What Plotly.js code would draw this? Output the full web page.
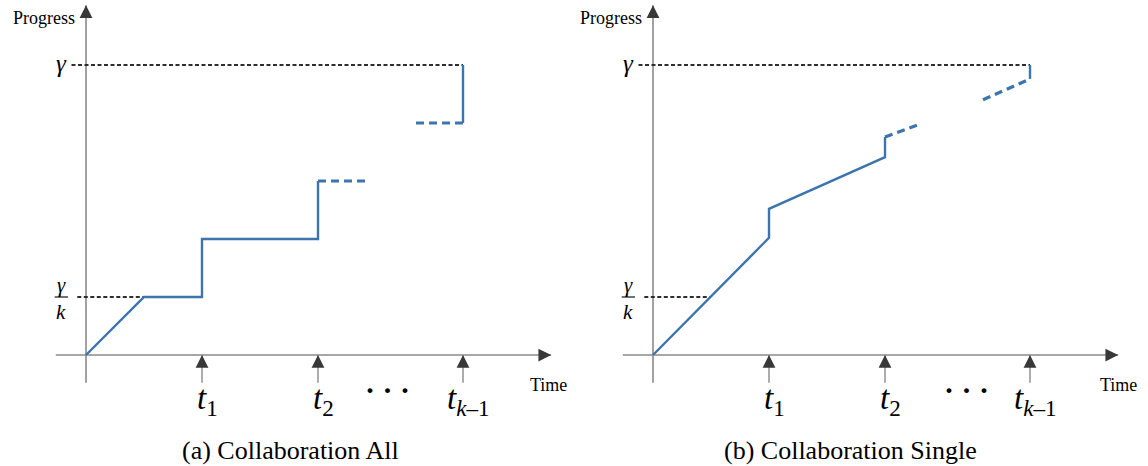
<!DOCTYPE html>
<html>
<head>
<meta charset="utf-8">
<script src="https://cdn.plot.ly/plotly-3.0.1.min.js"></script>
<style>html,body{margin:0;padding:0;background:#fff;}#chart{width:1148px;height:466px;}</style>
</head>
<body>
<div id="chart"></div>
<script>
// ---- data (abstract units: time, progress) ----
const gamma = 5;              // final progress level γ
const gammaOverK = 1;         // first milestone γ/k
const tickTimes = [2, 4, 6.5];
const tickLabels = ['<i>t</i><sub>1</sub>', '<i>t</i><sub>2</sub>', '<i>t</i><sub><i>k</i>–1</sub>'];

// (a) Collaboration All
const allSolidX = [0, 1, 2, 2, 4, 4];
const allSolidY = [0, 1, 1, 2, 2, 3];
const allDash1X = [4, 4.84];
const allDash1Y = [3, 3];
const allDash2X = [5.69, 6.5];
const allDash2Y = [4, 4];
const allEndX = [6.5, 6.5];
const allEndY = [4, 5];

// (b) Collaboration Single
const singleSolidX = [0, 2, 2, 4, 4];
const singleSolidY = [0, 2.02, 2.52, 3.41, 3.76];
const singleDash1X = [4, 4.57];
const singleDash1Y = [3.76, 3.97];
const singleDash2X = [5.69, 6.5];
const singleDash2Y = [4.40, 4.76];
const singleEndX = [6.5, 6.5];
const singleEndY = [4.76, 5];

// reference levels and axis extents
const gammaLineX = [-0.25, 6.5];
const gammaKLineX = [-0.15, 1];
const xAxisExtent = [-0.52, 8.02];
const yAxisExtent = [-0.48, 6.03];
const tickTail = -0.48;

const panels = ['(a) Collaboration All', '(b) Collaboration Single'];

// ---- layout scale ----
const W = 1148, H = 466, PX = 58;
const originY = 355;
const yRange = [-(H - originY) / PX, originY / PX];
const leftOrigin = 86, rightOrigin = 653, split = 574;
const xRange1 = [-leftOrigin / PX, (split - leftOrigin) / PX];
const xRange2 = [-(rightOrigin - split) / PX, (W - rightOrigin) / PX];

const blue = '#3c74ad';
const gray = '#8a8a8a';
const dark = '#2e2e2e';
const serif = 'Liberation Serif';

const traces = [];
const annotations = [];

function line(xs, ys, xa, color, width, dash) {
  traces.push({x: xs, y: ys, xaxis: xa, yaxis: 'y', mode: 'lines', hoverinfo: 'skip',
    line: {color: color, width: width, dash: dash || 'solid'}, showlegend: false});
}
function arrowHead(xa, x, y, dx, dy) {
  annotations.push({xref: xa, yref: 'y', x: x, y: y, ax: dx, ay: dy, text: '', showarrow: true,
    arrowhead: 2, arrowsize: 1.7, arrowwidth: 1.5, arrowcolor: '#383838', standoff: 0});
}
function label(xa, x, y, text, size) {
  annotations.push({xref: xa, yref: 'y', x: x, y: y, text: text, showarrow: false,
    font: {family: serif, size: size, color: '#000'}});
}

const sets = [
  {xa: 'x', sx: allSolidX, sy: allSolidY, d1x: allDash1X, d1y: allDash1Y, d2x: allDash2X, d2y: allDash2Y, ex: allEndX, ey: allEndY, dotsX: 5.19, capX: 3.52, timeX: 7.97},
  {xa: 'x2', sx: singleSolidX, sy: singleSolidY, d1x: singleDash1X, d1y: singleDash1Y, d2x: singleDash2X, d2y: singleDash2Y, ex: singleEndX, ey: singleEndY, dotsX: 5.41, capX: 3.41, timeX: 8.02}
];

sets.forEach((s, i) => {
  const xa = s.xa;
  // axes
  line(xAxisExtent, [0, 0], xa, gray, 1.6);
  line([0, 0], yAxisExtent, xa, gray, 1.6);
  arrowHead(xa, xAxisExtent[1], 0, -10, 0);
  arrowHead(xa, 0, yAxisExtent[1], 0, 10);
  // tick arrows
  tickTimes.forEach((t, j) => {
    line([t, t], [tickTail, 0], xa, gray, 1.4);
    arrowHead(xa, t, 0, 0, 10);
    label(xa, t + 0.1, -0.78, tickLabels[j], 33);
  });
  // reference dashed levels
  line(gammaLineX, [gamma, gamma], xa, dark, 2, '4px,2.5px');
  line(gammaKLineX, [gammaOverK, gammaOverK], xa, dark, 2, '4px,2.5px');
  // progress curve
  line(s.sx, s.sy, xa, blue, 2.4);
  line(s.d1x, s.d1y, xa, blue, 3.2, '8px,5px');
  line(s.d2x, s.d2y, xa, blue, 3.2, '8px,5px');
  line(s.ex, s.ey, xa, blue, 2.4);
  // texts
  label(xa, -0.73, 5.81, 'Progress', 18);
  label(xa, -0.43, gamma + 0.03, '<i>γ</i>', 25);
  label(xa, -0.43, gammaOverK + 0.21, '<i>γ</i>', 21);
  label(xa, -0.43, gammaOverK - 0.25, '<i>k</i>', 21);
  label(xa, s.timeX, -0.52, 'Time', 18);
  label(xa, s.dotsX, -0.6, '<b>· · ·</b>', 30);
  label(xa, s.capX, -1.64, panels[i], 26);
  // fraction bar
  line([-0.54, -0.31], [gammaOverK, gammaOverK], xa, '#000', 1.1);
});

const axisCommon = {visible: false, showgrid: false, zeroline: false, fixedrange: true};
const layout = {
  width: W, height: H,
  margin: {l: 0, r: 0, t: 0, b: 0},
  paper_bgcolor: '#fff', plot_bgcolor: '#fff',
  font: {family: serif, color: '#000'},
  xaxis: Object.assign({domain: [0, split / W], range: xRange1, anchor: 'y'}, axisCommon),
  xaxis2: Object.assign({domain: [split / W, 1], range: xRange2, anchor: 'y'}, axisCommon),
  yaxis: Object.assign({domain: [0, 1], range: yRange, anchor: 'x'}, axisCommon),
  annotations: annotations,
  showlegend: false
};
Plotly.newPlot('chart', traces, layout, {staticPlot: true});
</script>
</body>
</html>
